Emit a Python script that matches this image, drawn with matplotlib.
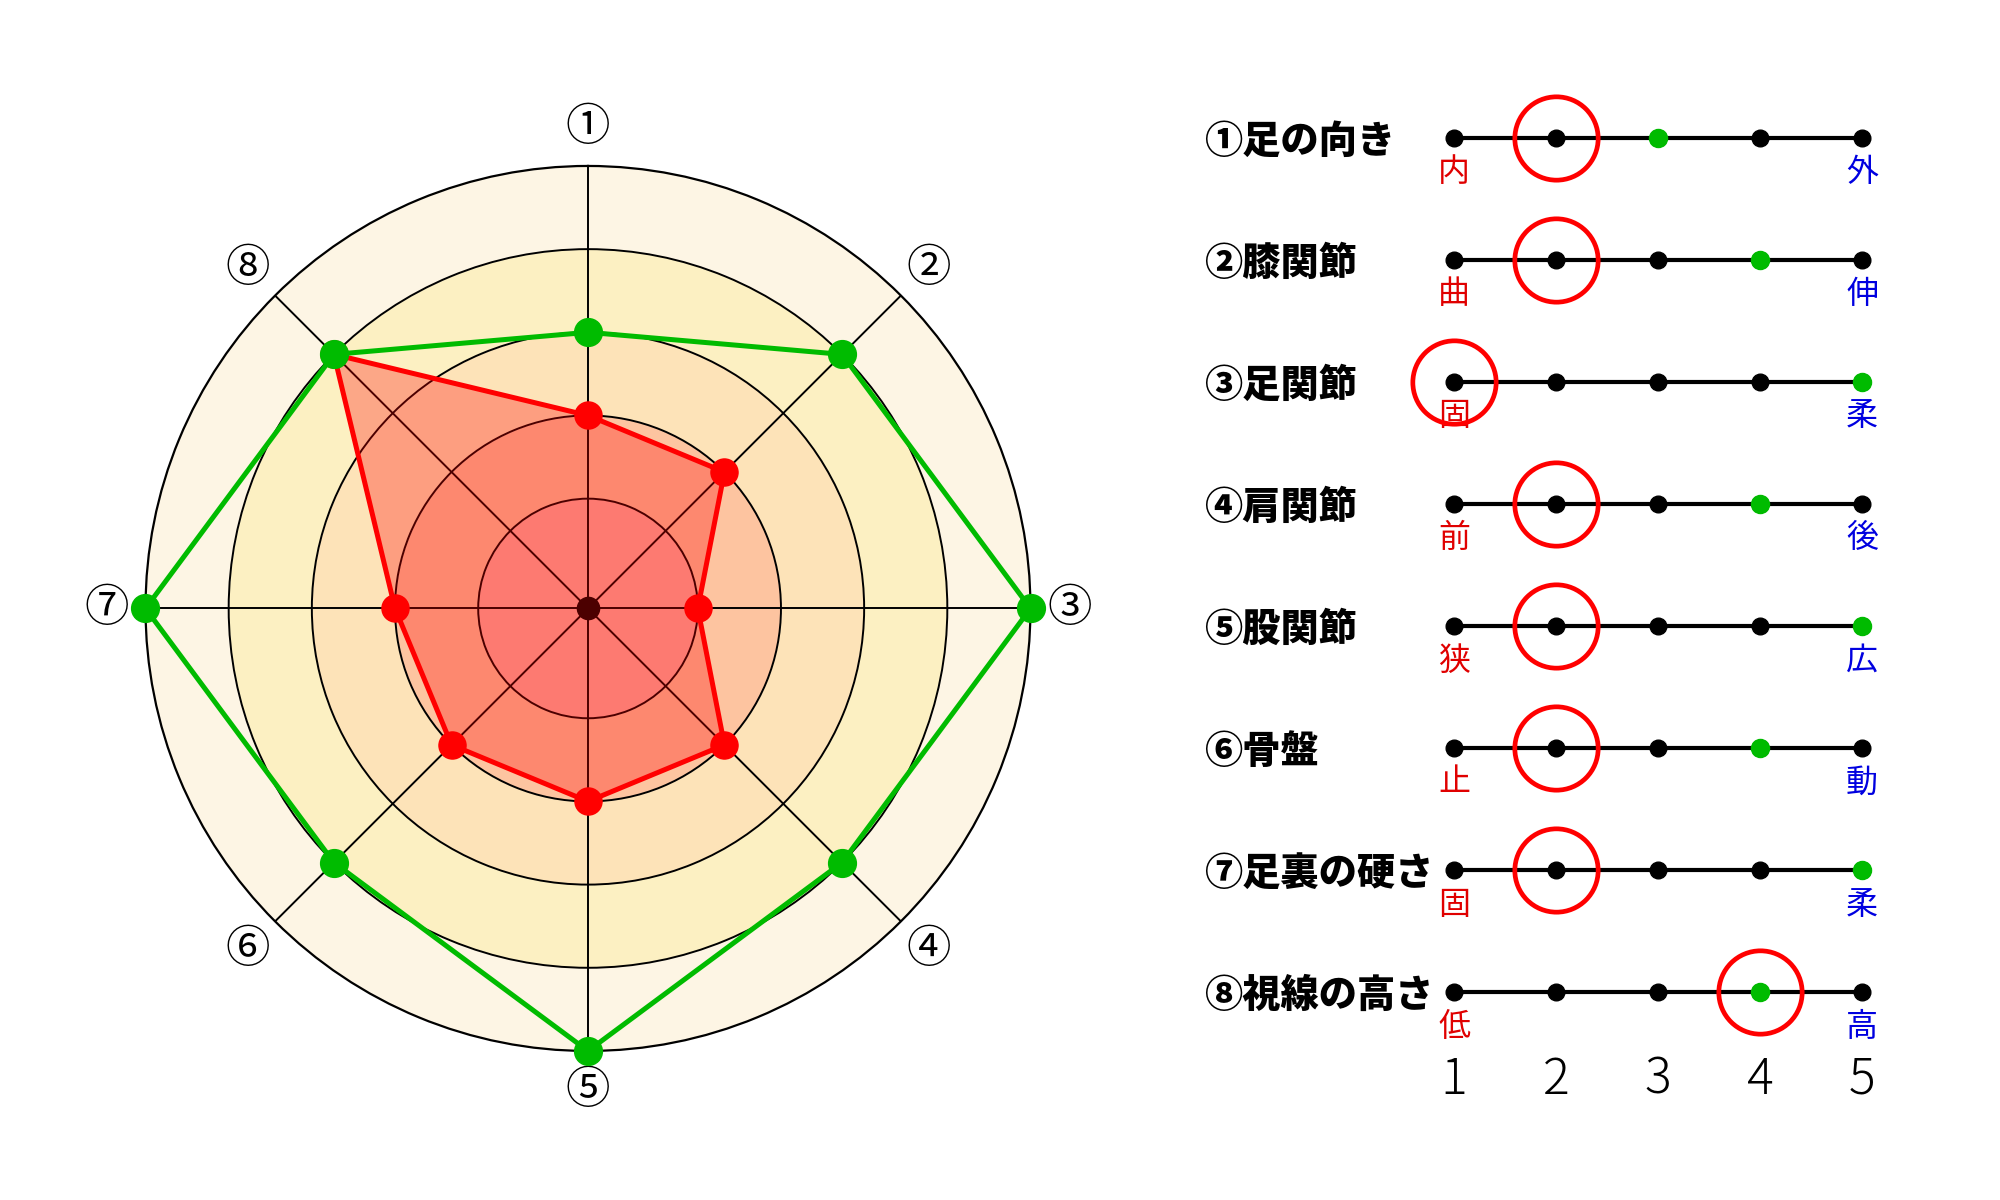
import numpy as np
import matplotlib
matplotlib.use('Agg')
import matplotlib.pyplot as plt

plt.rcParams['font.family'] = ['Noto Sans CJK JP', 'DejaVu Sans']

# --- data ---
axis_marks = ['①', '②', '③', '④', '⑤', '⑥', '⑦', '⑧']
items = ['①足の向き', '②膝関節', '③足関節', '④肩関節', '⑤股関節', '⑥骨盤', '⑦足裏の硬さ', '⑧視線の高さ']
low_labels = ['内', '曲', '固', '前', '狭', '止', '固', '低']
high_labels = ['外', '伸', '柔', '後', '広', '動', '柔', '高']
current = [2, 2, 1, 2, 2, 2, 2, 4]
target = [3, 4, 5, 4, 5, 4, 5, 4]
scale = [1, 2, 3, 4, 5]

RED = '#ff0000'
GREEN = '#00bb00'
R_MIN = -0.32

fig = plt.figure(figsize=(20, 12), dpi=100)

# ---------------- radar ----------------
ax = fig.add_axes([0.0727, 0.1242, 0.4426, 0.7375], projection='polar')
ax.set_theta_offset(np.pi / 2)
ax.set_theta_direction(-1)
ax.set_ylim(R_MIN, 5)

n = len(axis_marks)
angles = np.arange(n) * 2 * np.pi / n

# background bands
band_edges = [R_MIN, 1, 2, 3, 4, 5]
band_colors = ['#fdb0a2', '#fdc4a0', '#fde3b8', '#fcf0c2', '#fdf5e4']
th = np.linspace(0, 2 * np.pi, 361)
for lo, hi, c in zip(band_edges[:-1], band_edges[1:], band_colors):
    ax.fill_between(th, lo, hi, color=c, lw=0, zorder=0.5)

ax.set_rgrids([1, 2, 3, 4], labels=[])
ax.set_thetagrids(np.degrees(angles), labels=[])
ax.grid(True, color='black', lw=1.4)
ax.spines['polar'].set_linewidth(1.6)
ax.tick_params(length=0)

# centre dot
ax.plot([0], [R_MIN], 'o', color='black', ms=16, zorder=1.8)

ang_c = np.append(angles, angles[0])
cur_c = np.append(current, current[0])
tgt_c = np.append(target, target[0])

ax.fill(ang_c, cur_c, color=RED, alpha=0.3, lw=0, zorder=2)
ax.plot(ang_c, cur_c, color=RED, lw=3.6, zorder=3)
ax.plot(angles, current, 'o', color=RED, ms=19.5, zorder=4, clip_on=False)
ax.plot(ang_c, tgt_c, color=GREEN, lw=3.6, zorder=5, clip_on=False)
ax.plot(angles, target, 'o', color=GREEN, ms=20, zorder=6, clip_on=False)

for a, m in zip(angles, axis_marks):
    ax.text(a, 5.47, m, fontsize=32, ha='center', va='center')

# ---------------- scale panel ----------------
ax2 = fig.add_axes([0.523, 0.0205, 0.459, 0.966])
ax2.set_xlim(-3, 6)
ax2.set_ylim(9.5, 0)
ax2.axis('off')

for i, name in enumerate(items):
    y = i + 1
    ax2.text(-1.45, y + 0.03, name, fontsize=27.5, fontweight='heavy', ha='left', va='center')
    ax2.plot(scale, [y] * len(scale), '-', color='black', lw=3, zorder=2)
    ax2.plot(scale, [y] * len(scale), 'o', color='black', ms=12, zorder=3)
    ax2.plot(target[i], y, 'o', color=GREEN, ms=13, zorder=4)
    ax2.plot(current[i], y, 'o', mfc='none', mec=RED, ms=60, mew=3.4, zorder=5)
    ax2.text(scale[0], y + 0.28, low_labels[i], color='#e00000', fontsize=23,
             ha='center', va='center')
    ax2.text(scale[-1], y + 0.28, high_labels[i], color='#0000e0', fontsize=23,
             ha='center', va='center')

for s in scale:
    ax2.text(s, 8.72, str(s), fontsize=36, fontweight='light', ha='center', va='center')

fig.savefig('out.png', dpi=100, facecolor='white')
